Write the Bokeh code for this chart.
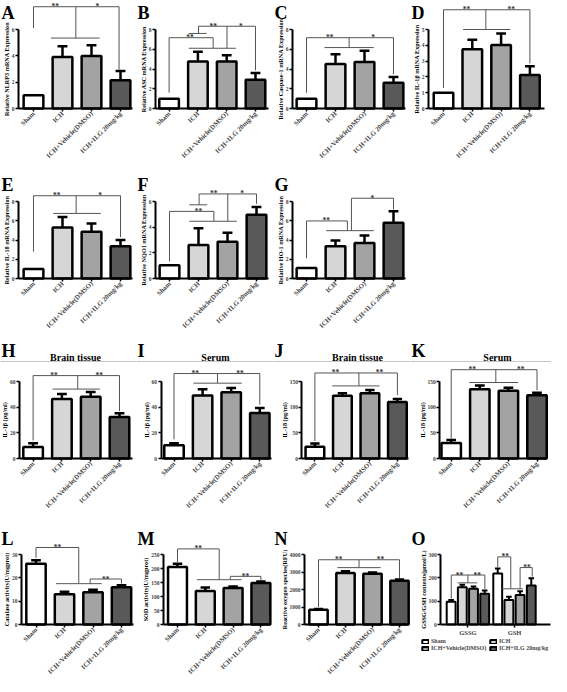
import math
from bokeh.plotting import figure
from bokeh.layouts import column, row
from bokeh.models import Range1d, FixedTicker, Legend, LegendItem
from bokeh.core.properties import value
from bokeh.embed import file_html
from bokeh.resources import INLINE

FONT = "Liberation Serif"
GROUPS = ["Sham", "ICH", "ICH+Vehicle(DMSO)", "ICH+ILG 20mg/kg"]
FILLS = ["#ffffff", "#d6d6d6", "#a3a3a3", "#595959"]
POS = [1, 2, 3, 4]

# ---------------- data ----------------
A_MEAN = [1.0, 3.92, 3.98, 2.15]
A_ERR = [0, 0.8, 0.83, 0.7]
A_TICKS = [0, 2, 4, 6]
A_LINES = [(1.0, 7.73, 3.95, 7.73), (1.0, 7.73, 1.0, 6.1), (2.46, 7.73, 2.46, 5.35),
           (3.95, 7.73, 3.95, 2.95), (1.6, 5.35, 3.28, 5.35)]
A_STARS = [(1.75, 7.73, "**"), (3.2, 7.73, "*")]

B_MEAN = [1.0, 4.75, 4.75, 2.9]
B_ERR = [0, 1.0, 0.65, 0.7]
B_TICKS = [0, 2, 4, 6, 8]
B_LINES = [(1.0, 7.17, 2.53, 7.17), (1.0, 7.17, 1.0, 1.6), (2.53, 7.17, 2.53, 6.1),
           (1.68, 6.1, 3.32, 6.1), (1.68, 7.6, 2.3, 7.6),
           (2.02, 8.33, 4.0, 8.33), (2.02, 8.33, 2.02, 7.6), (3.01, 8.33, 3.01, 6.1),
           (4.0, 8.33, 4.0, 3.85)]
B_STARS = [(1.73, 7.17, "**"), (2.53, 8.33, "**"), (3.49, 8.33, "*")]

C_MEAN = [1.0, 4.5, 4.7, 2.6]
C_ERR = [0, 1.0, 1.15, 0.6]
C_TICKS = [0, 2, 4, 6, 8]
C_LINES = [(1.0, 7.17, 4.0, 7.17), (1.0, 7.17, 1.0, 1.6), (2.47, 7.17, 2.47, 6.17),
           (1.62, 6.17, 3.32, 6.17), (4.0, 7.17, 4.0, 3.5)]
C_STARS = [(1.8, 7.17, "**"), (3.3, 7.17, "*")]

D_MEAN = [1.0, 3.75, 4.02, 2.12]
D_ERR = [0, 0.6, 0.72, 0.55]
D_TICKS = [0, 1, 2, 3, 4, 5]
D_LINES = [(1.0, 6.25, 4.0, 6.25), (1.0, 6.25, 1.0, 1.3), (2.47, 6.25, 2.47, 5.0),
           (1.68, 5.0, 3.32, 5.0), (4.0, 6.25, 4.0, 2.85)]
D_STARS = [(1.8, 6.25, "**"), (3.35, 6.25, "**")]

E_MEAN = [1.0, 5.3, 4.86, 3.35]
E_ERR = [0, 1.1, 0.85, 0.65]
E_TICKS = [0, 2, 4, 6, 8]
E_LINES = [(1.0, 8.6, 4.0, 8.6), (1.0, 8.6, 1.0, 2.8), (2.47, 8.6, 2.47, 6.76),
           (1.68, 6.76, 3.32, 6.76), (4.0, 8.6, 4.0, 4.3)]
E_STARS = [(1.8, 8.6, "**"), (3.3, 8.6, "*")]

F_MEAN = [1.03, 2.62, 2.87, 4.97]
F_ERR = [0, 1.3, 0.7, 0.6]
F_TICKS = [0, 2, 4, 6]
F_LINES = [(2.02, 6.59, 4.0, 6.59), (2.02, 6.59, 2.02, 5.74), (3.01, 6.59, 3.01, 4.46),
           (4.0, 6.59, 4.0, 5.82), (1.68, 5.74, 2.3, 5.74),
           (1.0, 5.23, 2.53, 5.23), (1.0, 5.23, 1.0, 1.33), (2.53, 5.23, 2.53, 4.46),
           (1.68, 4.46, 3.32, 4.46)]
F_STARS = [(2.53, 6.59, "**"), (3.5, 6.59, "*"), (2.0, 5.23, "**")]

G_MEAN = [1.1, 3.35, 3.68, 5.8]
G_ERR = [0, 0.6, 0.78, 1.2]
G_TICKS = [0, 2, 4, 6, 8]
G_LINES = [(1.0, 5.98, 2.41, 5.98), (1.0, 5.98, 1.0, 2.1), (2.41, 5.98, 2.41, 4.97),
           (1.68, 4.97, 3.32, 4.97), (2.55, 8.34, 4.0, 8.34), (2.55, 8.34, 2.55, 4.97),
           (4.0, 8.34, 4.0, 7.16)]
G_STARS = [(1.68, 5.98, "**"), (3.27, 8.34, "*")]

H_MEAN = [8.9, 46.4, 48.2, 32.4]
H_ERR = [3.0, 3.9, 3.6, 2.8]
H_TICKS = [0, 20, 40, 60]
H_LINES = [(1.0, 64.6, 4.0, 64.6), (1.0, 64.6, 1.0, 14), (2.55, 64.6, 2.55, 54.1),
           (1.68, 54.1, 3.32, 54.1), (4.0, 64.6, 4.0, 37)]
H_STARS = [(1.73, 64.6, "**"), (3.3, 64.6, "**")]

I_MEAN = [10.3, 49, 51.6, 35.5]
I_ERR = [1.5, 5, 3.4, 3.9]
I_TICKS = [0, 20, 40, 60]
I_LINES = [(1.0, 66.2, 4.0, 66.2), (1.0, 66.2, 1.0, 15), (2.52, 66.2, 2.52, 58.7),
           (1.68, 58.7, 3.37, 58.7), (4.0, 66.2, 4.0, 42)]
I_STARS = [(1.74, 66.2, "**"), (3.31, 66.2, "**")]

J_MEAN = [23, 122, 127, 110]
J_ERR = [6, 5, 6.5, 6]
J_TICKS = [0, 50, 100, 150]
J_LINES = [(1.0, 166.6, 4.0, 166.6), (1.0, 166.6, 1.0, 34), (2.6, 166.6, 2.6, 141.4),
           (1.63, 141.4, 3.35, 141.4), (4.0, 166.6, 4.0, 123.6)]
J_STARS = [(1.75, 166.6, "**"), (3.35, 166.6, "**")]

K_MEAN = [30, 135, 132, 123]
K_ERR = [6, 7, 6, 5]
K_TICKS = [0, 50, 100, 150]
K_LINES = [(1.0, 173, 4.0, 173), (1.0, 173, 1.0, 38), (2.56, 173, 2.56, 148),
           (1.63, 148, 3.34, 148), (4.0, 173, 4.0, 133)]
K_STARS = [(1.74, 173, "**"), (3.43, 173, "**")]

L_MEAN = [26, 13, 13.8, 16]
L_ERR = [1.5, 1.0, 1.1, 0.8]
L_TICKS = [0, 10, 20, 30]
L_LINES = [(1.0, 33, 2.5, 33), (1.0, 33, 1.0, 28.5), (2.5, 33, 2.5, 17.5),
           (1.7, 17.5, 3.3, 17.5), (2.9, 19.5, 4.0, 19.5), (2.9, 19.5, 2.9, 17.5),
           (4.0, 19.5, 4.0, 17.5)]
L_STARS = [(1.75, 33, "**"), (3.45, 19.5, "**")]

M_MEAN = [205, 120, 130, 148]
M_ERR = [12, 12, 6, 6]
M_TICKS = [0, 50, 100, 150, 200, 250]
M_LINES = [(1.0, 270, 2.5, 270), (1.0, 270, 1.0, 222), (2.5, 270, 2.5, 160),
           (1.7, 160, 3.3, 160), (2.9, 172, 4.0, 172), (2.9, 172, 2.9, 160),
           (4.0, 172, 4.0, 158)]
M_STARS = [(1.75, 270, "**"), (3.45, 172, "**")]

N_MEAN = [850, 2950, 2900, 2500]
N_ERR = [40, 90, 70, 70]
N_TICKS = [0, 1000, 2000, 3000, 4000]
N_LINES = [(1.0, 3700, 4.0, 3700), (1.0, 3700, 1.0, 1000), (2.5, 3700, 2.5, 3250),
           (1.7, 3250, 3.3, 3250), (4.0, 3700, 4.0, 2650)]
N_STARS = [(1.75, 3700, "**"), (3.3, 3700, "**")]

O_CATS = ["GSSG", "GSH"]
O_GSSG = [98, 160, 153, 132]
O_GSSG_ERR = [7, 10, 10, 14]
O_GSH = [219, 105, 126, 167]
O_GSH_ERR = [21, 14, 17, 31]
O_TICKS = [0, 100, 200, 300]
O_OFFS = [-0.36, -0.12, 0.12, 0.36]
O_LINES = [(0.643, 212, 1.364, 212), (0.643, 212, 0.643, 111), (1.0, 212, 1.0, 178.5),
           (0.78, 178.5, 1.2, 178.5), (1.364, 212, 1.364, 153),
           (1.64, 290, 1.92, 290), (1.64, 290, 1.64, 245), (1.92, 290, 1.92, 153),
           (1.73, 153, 2.18, 153), (2.12, 244, 2.38, 244), (2.12, 244, 2.12, 153),
           (2.38, 244, 2.38, 205)]
O_STARS = [(0.82, 212, "**"), (1.2, 212, "**"), (1.8, 290, "**"), (2.27, 244, "**")]


# ---------------- helpers ----------------
def new_fig(W, H, xr, yr, **kw):
    p = figure(frame_width=W, frame_height=H, x_range=xr, y_range=yr,
               output_backend="svg", toolbar_location=None, title_location=None,
               min_border=0, **kw)
    p.grid.visible = False
    p.outline_line_color = None
    p.background_fill_color = "white"
    p.border_fill_color = "white"
    return p


class Frame:
    """Figure whose plotting frame fills the whole canvas; axes sit at fixed data locations."""

    def __init__(self, W, H, c1, s, zero, axis_top, ymax):
        self.x0 = 1 - c1 / s
        self.s = s
        self.k = (zero - axis_top) / ymax
        self.zero = zero
        x1 = self.x0 + W / s
        y1 = zero / self.k
        y0 = -(H - zero) / self.k
        self.p = new_fig(W, H, Range1d(self.x0, x1), Range1d(y0, y1))

    def X(self, px):
        return self.x0 + px / self.s

    def Y(self, py):
        return (self.zero - py) / self.k


def text(p, x, y, t, size, **kw):
    p.text(x=[x], y=[y], text=[t], text_font=value(FONT), text_font_style="bold",
           text_font_size=size, text_color="black", **kw)


def style_y(fr, ticks, label, axis_x):
    p = fr.p
    ax = p.yaxis[0]
    ax.fixed_location = fr.X(axis_x)
    ax.ticker = FixedTicker(ticks=ticks)
    ax.bounds = (0, ticks[-1])
    ax.major_label_text_font = FONT
    ax.major_label_text_font_style = "bold"
    ax.major_label_text_font_size = "5.5px"
    ax.major_label_standoff = 1
    ax.axis_line_width = 2
    ax.major_tick_line_width = 1.5
    ax.major_tick_out = 3
    ax.major_tick_in = 0
    ax.minor_tick_line_color = None
    tickw = 2.75 * max(len(str(t)) for t in ticks)
    text(p, fr.X(axis_x - 9.5 - tickw), ticks[-1] / 2, label, "6.2px",
         angle=math.pi / 2, text_align="center", text_baseline="middle")


def style_x(fr, ticks, labels, orient, size, axis_x, axis_end):
    ax = fr.p.xaxis[0]
    ax.fixed_location = 0
    ax.ticker = FixedTicker(ticks=ticks)
    ax.bounds = (fr.X(axis_x), fr.X(axis_end))
    ax.major_label_overrides = {t: l for t, l in zip(ticks, labels)}
    ax.major_label_orientation = orient
    ax.major_label_text_font = FONT
    ax.major_label_text_font_style = "bold"
    ax.major_label_text_font_size = size
    ax.major_label_standoff = 1
    ax.axis_line_width = 2
    ax.major_tick_line_width = 1.5
    ax.major_tick_out = 3
    ax.major_tick_in = 0
    ax.minor_tick_line_color = None


def errbars(p, xs, mean, err, half, lw):
    ex, lo, hi = [], [], []
    for xi, m, e in zip(xs, mean, err):
        if e > 0:
            ex.append(xi)
            lo.append(m)
            hi.append(m + e)
    p.segment(x0=ex, y0=lo, x1=ex, y1=hi, line_color="black", line_width=lw)
    p.segment(x0=[v - half for v in ex], y0=hi, x1=[v + half for v in ex], y1=hi,
              line_color="black", line_width=lw)


def brackets(p, lines, stars):
    x0, y0, x1, y1 = (list(c) for c in zip(*lines))
    p.segment(x0=x0, y0=y0, x1=x1, y1=y1, line_color="#555555", line_width=1)
    sx, sy, st = (list(c) for c in zip(*stars))
    p.text(x=sx, y=sy, text=st, text_align="center", text_baseline="alphabetic",
           text_font=value(FONT), text_font_style="bold", text_font_size="7.5px",
           text_color="#333333")


def panel(letter, mean, err, ticks, ylabel, lines, stars, W, H, axis_x, c1, s, axis_end,
          axis_top, zero, letter_base):
    fr = Frame(W, H, c1, s, zero, axis_top, ticks[-1])
    p = fr.p
    errbars(p, POS, mean, err, 0.17, 2.5)
    p.vbar(x=POS, top=mean, width=0.68, fill_color=FILLS, line_color="black", line_width=2.5)
    brackets(p, lines, stars)
    style_y(fr, ticks, ylabel, axis_x)
    style_x(fr, POS, GROUPS, math.pi / 4, "6.8px", axis_x, axis_end)
    if letter:
        text(p, fr.X(1), fr.Y(letter_base), letter, "18px", text_baseline="alphabetic")
    return p


def heading(W, letter, title, title_x):
    Hh = 27
    p = new_fig(W, Hh, Range1d(0, W), Range1d(0, Hh), x_axis_type=None, y_axis_type=None)
    text(p, 1, Hh - 15, letter, "18px", text_baseline="alphabetic")
    text(p, title_x, 5, title, "10px", text_align="center", text_baseline="alphabetic")
    p.segment(x0=[0], y0=[0.5], x1=[W], y1=[0.5], line_color="#8c8c8c", line_width=1)
    return p


# ---------------- row 1 ----------------
R1 = dict(H=163, axis_top=29, zero=108, letter_base=12)
pA = panel("A", A_MEAN, A_ERR, A_TICKS, "Relative NLRP3 mRNA Expression", A_LINES, A_STARS,
           W=136, axis_x=18, c1=33, s=29, axis_end=132, **R1)
pB = panel("B", B_MEAN, B_ERR, B_TICKS, "Relative ASC mRNA Expression", B_LINES, B_STARS,
           W=137, axis_x=19, c1=32.6, s=28.8, axis_end=132, **R1)
pC = panel("C", C_MEAN, C_ERR, C_TICKS, "Relative Caspase-1 mRNA Expression", C_LINES, C_STARS,
           W=137, axis_x=19, c1=33, s=29, axis_end=132, **R1)
pD = panel("D", D_MEAN, D_ERR, D_TICKS, "Relative IL-1\u03b2 mRNA Expression", D_LINES, D_STARS,
           W=141, axis_x=18, c1=33, s=28.8, axis_end=134, **R1)

# ---------------- row 2 ----------------
R2 = dict(H=172, axis_top=38, zero=115, letter_base=21.5)
pE = panel("E", E_MEAN, E_ERR, E_TICKS, "Relative IL-18 mRNA Expression", E_LINES, E_STARS,
           W=136, axis_x=18, c1=33, s=29, axis_end=132, **R2)
pF = panel("F", F_MEAN, F_ERR, F_TICKS, "Relative NQO1 mRNA Expression", F_LINES, F_STARS,
           W=137, axis_x=19, c1=33, s=29, axis_end=132, **R2)
pG = panel("G", G_MEAN, G_ERR, G_TICKS, "Relative HO-1 mRNA Expression", G_LINES, G_STARS,
           W=137, axis_x=19, c1=33, s=29, axis_end=132, **R2)

# ---------------- row 3 ----------------
hH = heading(136, "H", "Brain tissue", 75)
hI = heading(137, "I", "Serum", 79)
hJ = heading(137, "J", "Brain tissue", 84)
hK = heading(141, "K", "Serum", 87)
R3 = dict(H=152, axis_top=19, zero=96, letter_base=0)
pH = panel(None, H_MEAN, H_ERR, H_TICKS, "IL-1\u03b2 (pg/ml)", H_LINES, H_STARS,
           W=136, axis_x=19, c1=32.6, s=28.8, axis_end=132, **R3)
pI = panel(None, I_MEAN, I_ERR, I_TICKS, "IL-1\u03b2 (pg/ml)", I_LINES, I_STARS,
           W=137, axis_x=24.5, c1=37.5, s=28.6, axis_end=135, **R3)
pJ = panel(None, J_MEAN, J_ERR, J_TICKS, "IL-18 (pg/ml)", J_LINES, J_STARS,
           W=137, axis_x=28.4, c1=41.4, s=27.5, axis_end=135, **R3)
pK = panel(None, K_MEAN, K_ERR, K_TICKS, "IL-18 (pg/ml)", K_LINES, K_STARS,
           W=141, axis_x=29.3, c1=40.7, s=28.6, axis_end=136, **R3)

# ---------------- row 4 ----------------
R4 = dict(H=161, axis_top=40, zero=110, letter_base=24)
pL = panel("L", L_MEAN, L_ERR, L_TICKS, "Catalase activity(U/mgprot)", L_LINES, L_STARS,
           W=136, axis_x=21, c1=35.5, s=28.5, axis_end=133, **R4)
pM = panel("M", M_MEAN, M_ERR, M_TICKS, "SOD activity(U/mgprot)", M_LINES, M_STARS,
           W=137, axis_x=27, c1=41, s=27.8, axis_end=134, **R4)
pN = panel("N", N_MEAN, N_ERR, N_TICKS, "Reactive oxygen species(RFU)", N_LINES, N_STARS,
           W=137, axis_x=31, c1=45, s=27, axis_end=134, **R4)

# panel O (grouped bars with legend)
frO = Frame(141, 161, 57.4, 46.6, 110, 40, O_TICKS[-1])
pO = frO.p
o_items = []
for i in range(4):
    xs = [1 + O_OFFS[i], 2 + O_OFFS[i]]
    tops = [O_GSSG[i], O_GSH[i]]
    errs = [O_GSSG_ERR[i], O_GSH_ERR[i]]
    errbars(pO, xs, tops, errs, 0.06, 2)
    r = pO.vbar(x=xs, top=tops, width=0.19, fill_color=FILLS[i], line_color="black",
                line_width=2)
    o_items.append(LegendItem(label=GROUPS[i], renderers=[r]))
brackets(pO, O_LINES, O_STARS)
style_y(frO, O_TICKS, "GSSG/GSH contents(\u03bcmol/L)", 30.3)
style_x(frO, [1, 2], O_CATS, "horizontal", "6.5px", 30.3, 140)
text(pO, frO.X(1), frO.Y(24), "O", "18px", text_baseline="alphabetic")
for items, ybot in ((o_items[:2], 31), (o_items[2:], 24)):
    leg = Legend(items=items, orientation="horizontal", location=(11, ybot),
                 label_text_font=FONT, label_text_font_style="bold",
                 label_text_font_size="6px", glyph_width=8, glyph_height=5,
                 label_standoff=2, spacing=2, padding=0, margin=0, label_width=56,
                 label_height=6, border_line_color=None, background_fill_alpha=0)
    pO.add_layout(leg)

layout = column(
    row(pA, pB, pC, pD),
    row(pE, pF, pG),
    row(hH, hI, hJ, hK),
    row(pH, pI, pJ, pK),
    row(pL, pM, pN, pO),
)

open("out.html", "w").write(file_html(layout, INLINE))
